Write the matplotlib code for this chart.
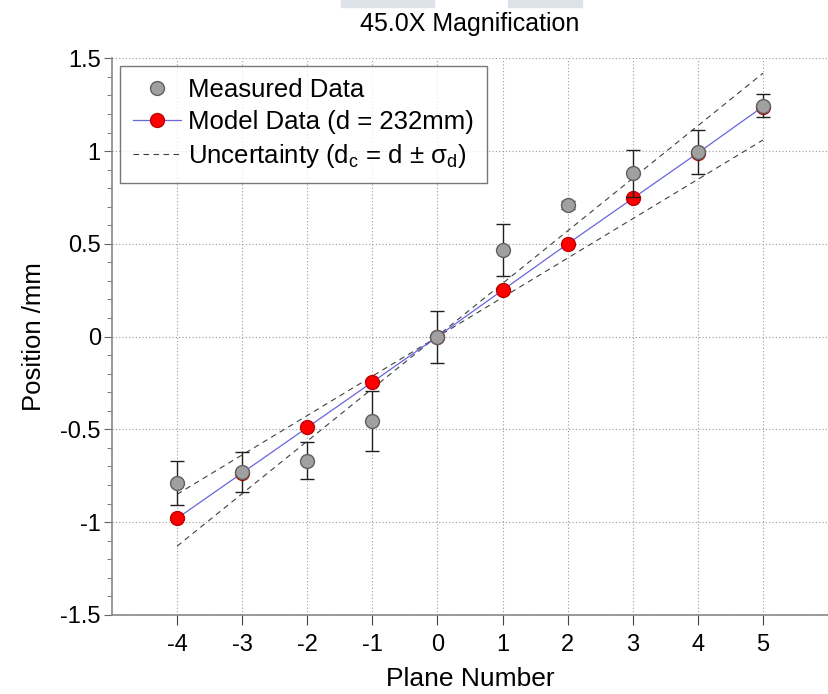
#!/usr/bin/env python3
"""
45.0X Magnification - measured vs model plane positions
"""

import matplotlib.pyplot as plt
from matplotlib.patches import Rectangle
from matplotlib.ticker import MultipleLocator

plt.rcParams['font.family'] = ['Liberation Sans', 'DejaVu Sans']
plt.rcParams['axes.unicode_minus'] = False
plt.rcParams['mathtext.fontset'] = 'custom'
plt.rcParams['mathtext.rm'] = 'Liberation Sans'

# ============================================================================
# DATA
# ============================================================================
planes = [-4, -3, -2, -1, 0, 1, 2, 3, 4, 5]

measured = [-0.79, -0.73, -0.67, -0.455, 0.0, 0.465, 0.71, 0.88, 0.995, 1.245]
measured_err = [0.12, 0.11, 0.10, 0.16, 0.14, 0.14, 0.02, 0.125, 0.12, 0.06]

model = [-0.98, -0.735, -0.49, -0.245, 0.0, 0.25, 0.5, 0.745, 0.99, 1.24]

# uncertainty band end points (plane -4 and plane 5)
unc_planes = [-4, 5]
unc_high = [-1.13, 1.42]
unc_low = [-0.85, 1.06]

y_ticks = [-1.5, -1, -0.5, 0, 0.5, 1, 1.5]
y_tick_labels = ['-1.5', '-1', '-0.5', '0', '0.5', '1', '1.5']

# ============================================================================
# Plot
# ============================================================================
fig = plt.figure(figsize=(8.29, 6.94), dpi=100)
ax = fig.add_axes([0.135, 0.114, 0.864, 0.802])

# uncertainty lines
ax.plot(unc_planes, unc_high, color='#404040', linestyle=(0, (5, 4)),
        linewidth=0.8, label=r'Uncertainty (d$_{\mathrm{c}}$ = d ± σ$_{\mathrm{d}}$)',
        zorder=2)
ax.plot(unc_planes, unc_low, color='#404040', linestyle=(0, (5, 4)),
        linewidth=0.8, zorder=2)

# model data
ax.plot(planes, model, color='#6666dd', linewidth=0.9, marker='o',
        markersize=10, markerfacecolor='#ff0000', markeredgecolor='#c00000',
        label='Model Data (d = 232mm)', zorder=3)

# measured data
ax.errorbar(planes, measured, yerr=measured_err, fmt='none', ecolor='#202020',
            elinewidth=1.0, capsize=5, capthick=1.0, zorder=4)
ax.plot(planes, measured, linestyle='none', marker='o', markersize=10,
        markerfacecolor='#a0a0a0', markeredgecolor='#606060',
        label='Measured Data', zorder=5)

ax.set_xlim(-5, 6)
ax.set_ylim(-1.5, 1.5)
ax.set_xticks(planes)
ax.set_yticks(y_ticks)
ax.set_yticklabels(y_tick_labels)
ax.yaxis.set_minor_locator(MultipleLocator(0.1))

ax.grid(True, which='major', linestyle=(0, (1, 2)), color='#999999', linewidth=0.8)

for side in ['top', 'right']:
    ax.spines[side].set_visible(False)
for side in ['left', 'bottom']:
    ax.spines[side].set_color('#888888')
    ax.spines[side].set_linewidth(1.2)

ax.tick_params(axis='x', which='major', direction='out', length=7,
               color='#444444', labelsize=17, pad=7)
ax.tick_params(axis='y', which='major', direction='out', length=6,
               color='#666666', labelsize=17, pad=2)
ax.tick_params(axis='y', which='minor', direction='out', length=3.5,
               color='#666666')

ax.set_xlabel('Plane Number', fontsize=19, labelpad=8)
ax.set_ylabel('Position /mm', fontsize=18.5, labelpad=10)
ax.set_title('45.0X Magnification', fontsize=18, pad=20)

handles, labels = ax.get_legend_handles_labels()
order = [2, 1, 0]
leg = ax.legend([handles[i] for i in order], [labels[i] for i in order],
                loc='upper left', bbox_to_anchor=(0.011, 0.987),
                borderaxespad=0, fontsize=18.5,
                frameon=True, fancybox=False, handlelength=1.9,
                handletextpad=0.25, borderpad=0.5, labelspacing=0.3)
leg.get_frame().set_edgecolor('#555555')
leg.get_frame().set_linewidth(1.0)

# light gray bars at the top edge of the picture
fig.patches.append(Rectangle((341 / 829, 1 - 7 / 694), 93 / 829, 7 / 694,
                             transform=fig.transFigure, color='#dde2e8',
                             zorder=0))
fig.patches.append(Rectangle((508 / 829, 1 - 7 / 694), 74 / 829, 7 / 694,
                             transform=fig.transFigure, color='#dde2e8',
                             zorder=0))

fig.savefig('out.png', dpi=100)
plt.close(fig)
